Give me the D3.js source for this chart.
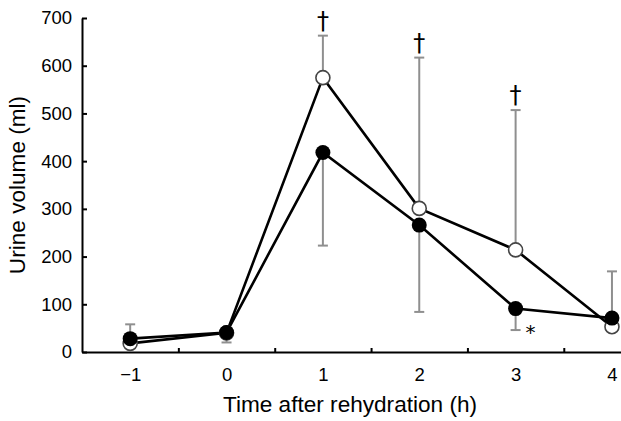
<!DOCTYPE html>
<html>
<head>
  <meta charset="utf-8">
  <title>Urine volume after rehydration</title>
  <style>
    body { margin: 0; background: #fff; }
    svg { display: block; font-family: 'Liberation Sans', Arial, sans-serif; }
    .axis path, .axis line { stroke: #000; stroke-width: 2px; }
    .axis text { font-size: 18.5px; fill: #000; }
    .title { font-size: 22.6px; fill: #000; }
    .err { stroke: #8f8f8f; stroke-width: 2px; fill: none; }
    .series { stroke: #000; stroke-width: 2.6px; fill: none; }
    .mark { fill: #000; font-family: 'DejaVu Sans', sans-serif; }
  </style>
</head>
<body>
  <svg id="chart" width="621" height="421"></svg>

  <script src="https://d3js.org/d3.v7.min.js"></script>
  <script>
    // hours after rehydration
    const times = [-1, 0, 1, 2, 3, 4];
    const yTicks = [0, 100, 200, 300, 400, 500, 600, 700];
    const xMinorTicks = [-0.5, 0.5, 1.5, 2.5, 3.5];

    // open circles
    const openMean = [18, 40, 575, 301, 214, 53];
    const openSdUp = [null, null, 88, 316, 293, null];

    // filled circles
    const filledMean = [28, 41, 418, 266, 91, 71];
    const filledSdUp = [30, null, null, null, null, 98];
    const filledSdDown = [null, 21, 195, 182, 45, null];

    // significance marks
    const daggerTimes = [1, 2, 3];
    const starTimes = [3];

    const svg = d3.select('#chart');

    const x = d3.scaleLinear().domain([-1.5, 4.1]).range([82, 621.6]);
    const y = d3.scaleLinear().domain([0, 700]).range([352, 18]);

    // axes
    svg.append('g')
      .attr('class', 'axis')
      .attr('transform', 'translate(0,352)')
      .call(d3.axisBottom(x).tickValues(xMinorTicks).tickSizeInner(-4).tickSizeOuter(0).tickFormat(''));

    const xLabels = svg.append('g')
      .attr('class', 'axis')
      .attr('transform', 'translate(0,352)')
      .call(d3.axisBottom(x).tickValues(times).tickSize(0).tickPadding(15.5)
        .tickFormat(d => d < 0 ? '\u2212' + Math.abs(d) : d));
    xLabels.select('.domain').remove();

    svg.append('g')
      .attr('class', 'axis')
      .attr('transform', 'translate(82,0)')
      .call(d3.axisLeft(y).tickValues(yTicks).tickSizeInner(-5).tickSizeOuter(0).tickPadding(10));

    svg.append('text')
      .attr('class', 'title')
      .attr('text-anchor', 'middle')
      .attr('x', 350)
      .attr('y', 412)
      .text('Time after rehydration (h)');

    svg.append('text')
      .attr('class', 'title')
      .attr('text-anchor', 'middle')
      .attr('transform', 'translate(25,185) rotate(-90)')
      .text('Urine volume (ml)');

    // error bars
    const bars = [];
    times.forEach((t, i) => {
      if (openSdUp[i] != null) bars.push({ t, from: openMean[i], to: openMean[i] + openSdUp[i] });
      if (filledSdUp[i] != null) bars.push({ t, from: filledMean[i], to: filledMean[i] + filledSdUp[i] });
      if (filledSdDown[i] != null) bars.push({ t, from: filledMean[i], to: filledMean[i] - filledSdDown[i] });
    });

    const eb = svg.append('g');
    eb.selectAll('line.stem')
      .data(bars)
      .enter()
      .append('line')
      .attr('class', 'err')
      .attr('x1', d => x(d.t))
      .attr('x2', d => x(d.t))
      .attr('y1', d => y(d.from))
      .attr('y2', d => y(d.to));
    eb.selectAll('line.cap')
      .data(bars)
      .enter()
      .append('line')
      .attr('class', 'err')
      .attr('x1', d => x(d.t) - 5)
      .attr('x2', d => x(d.t) + 5)
      .attr('y1', d => y(d.to))
      .attr('y2', d => y(d.to));

    // lines
    const line = d3.line().x((d, i) => x(times[i])).y(d => y(d));
    svg.append('path').attr('class', 'series').attr('d', line(openMean));
    svg.append('path').attr('class', 'series').attr('d', line(filledMean));

    // markers
    svg.append('g')
      .selectAll('circle')
      .data(openMean)
      .enter()
      .append('circle')
      .attr('cx', (d, i) => x(times[i]))
      .attr('cy', d => y(d))
      .attr('r', 7)
      .attr('fill', '#fff')
      .attr('stroke', '#444')
      .attr('stroke-width', 1.6);

    svg.append('g')
      .selectAll('circle')
      .data(filledMean)
      .enter()
      .append('circle')
      .attr('cx', (d, i) => x(times[i]))
      .attr('cy', d => y(d))
      .attr('r', 7.5)
      .attr('fill', '#000');

    // daggers above the open-circle bars
    svg.append('g')
      .selectAll('text')
      .data(daggerTimes)
      .enter()
      .append('text')
      .attr('class', 'mark')
      .attr('text-anchor', 'middle')
      .attr('font-size', '24px')
      .attr('x', d => x(d))
      .attr('y', d => {
        const i = times.indexOf(d);
        return y(openMean[i] + openSdUp[i]) - 7;
      })
      .text('\u2020');

    // asterisk beside the filled-circle bar
    svg.append('g')
      .selectAll('text')
      .data(starTimes)
      .enter()
      .append('text')
      .attr('class', 'mark')
      .attr('font-size', '20px')
      .attr('x', d => x(d) + 10)
      .attr('y', d => {
        const i = times.indexOf(d);
        return y(filledMean[i] - filledSdDown[i]) + 8.5;
      })
      .text('*');
  </script>
</body>
</html>
